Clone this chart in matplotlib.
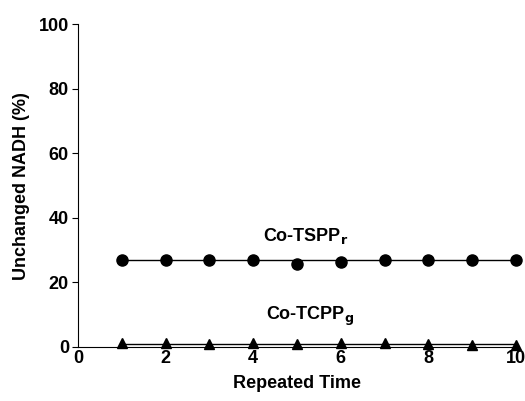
import numpy as np
import matplotlib.pyplot as plt

# Data
repeats = [1, 2, 3, 4, 5, 6, 7, 8, 9, 10]
tspp = [27.0, 27.0, 27.0, 27.0, 25.6, 26.2, 26.8, 27.0, 27.0, 27.0]
tcpp = [1.1, 1.1, 1.0, 1.3, 1.0, 1.1, 1.3, 1.0, 0.6, 0.7]

plt.rcParams['font.family'] = ['Liberation Sans', 'DejaVu Sans']
plt.rcParams['font.weight'] = 'bold'

fig = plt.figure(figsize=(5.25, 4.01), dpi=100)
ax = fig.add_axes([0.1486, 0.1347, 0.834, 0.805])

# horizontal lines at the typical level, points on top
ax.plot([repeats[0], repeats[-1]], [np.median(tspp)] * 2, color='black', lw=1)
ax.plot([repeats[0], repeats[-1]], [np.median(tcpp)] * 2, color='black', lw=1)
ax.plot(repeats, tspp, 'o', color='black', ms=8, clip_on=False)
ax.plot(repeats, tcpp, '^', color='black', ms=7.5, clip_on=False)

ax.text(5.2, 34.5, r'Co-TSPP$_\mathbf{r}$', ha='center', va='center', fontsize=13, fontweight='bold')
ax.text(5.3, 9.5, r'Co-TCPP$_\mathbf{g}$', ha='center', va='center', fontsize=13, fontweight='bold')

ax.set_xlim(0, 10)
ax.set_ylim(0, 100)
ax.set_xticks(range(0, 11, 2))
ax.set_yticks(range(0, 101, 20))
ax.spines['top'].set_visible(False)
ax.spines['right'].set_visible(False)
ax.tick_params(axis='y', direction='out', length=4.5, labelsize=13, pad=2)
ax.tick_params(axis='x', direction='in', length=0, labelsize=13, pad=2)

ax.set_xlabel('Repeated Time', fontsize=13, fontweight='bold', labelpad=6)
ax.set_ylabel('Unchanged NADH (%)', fontsize=13, fontweight='bold', labelpad=6)

fig.savefig('out.png', dpi=100)
